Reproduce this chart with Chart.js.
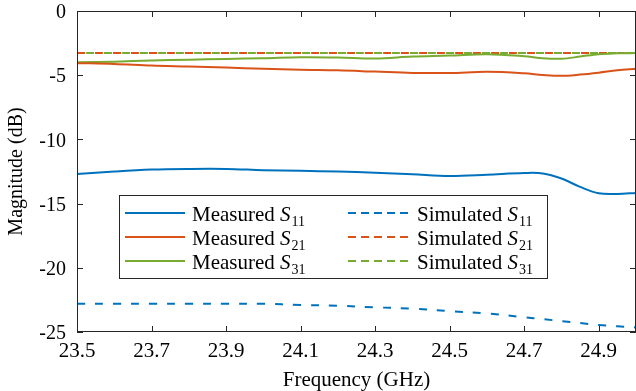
<!DOCTYPE html>
<html>
<head>
<meta charset="utf-8">
<script src="https://cdn.jsdelivr.net/npm/chart.js@4/dist/chart.umd.min.js"></script>
<style>
  html, body { margin: 0; padding: 0; background: #fff; }
  #wrap { width: 636px; height: 391px; }
</style>
</head>
<body>
<div id="wrap"><canvas id="sparams"></canvas></div>
<script>
// frequency grid (GHz)
const freq = [23.5, 23.6, 23.7, 23.8, 23.9, 24.0, 24.1, 24.2, 24.3, 24.4, 24.5, 24.6, 24.7, 24.75, 24.8, 24.85, 24.9, 24.95, 25.0]

// measured (dB)
const measS11 = [-12.7, -12.5, -12.35, -12.3, -12.3, -12.4, -12.45, -12.5, -12.6, -12.72, -12.85, -12.75, -12.62, -12.65, -13.05, -13.7, -14.2, -14.25, -14.17]
const measS21 = [-4.06, -4.12, -4.25, -4.32, -4.4, -4.5, -4.58, -4.62, -4.72, -4.82, -4.83, -4.74, -4.85, -4.98, -5.05, -4.95, -4.8, -4.62, -4.5]
const measS31 = [-4.0, -3.95, -3.85, -3.8, -3.73, -3.68, -3.6, -3.62, -3.7, -3.55, -3.47, -3.36, -3.52, -3.68, -3.72, -3.55, -3.36, -3.3, -3.28]

// simulated (dB)
const simS11 = [-22.8, -22.8, -22.8, -22.8, -22.8, -22.8, -22.9, -22.95, -23.08, -23.18, -23.38, -23.55, -23.85, -24.0, -24.15, -24.3, -24.45, -24.55, -24.64]
const simS21 = [-3.28, -3.28, -3.28, -3.28, -3.28, -3.28, -3.28, -3.28, -3.28, -3.28, -3.28, -3.28, -3.28, -3.28, -3.28, -3.28, -3.28, -3.28, -3.28]
const simS31 = [-3.28, -3.28, -3.28, -3.28, -3.28, -3.28, -3.28, -3.28, -3.28, -3.28, -3.28, -3.28, -3.28, -3.28, -3.28, -3.28, -3.28, -3.28, -3.28]

const xTicks = [23.5, 23.7, 23.9, 24.1, 24.3, 24.5, 24.7, 24.9]
const yTicks = [-25, -20, -15, -10, -5, 0]

const BLUE = "#0072BD"
const ORANGE = "#D95319"
const GREEN = "#77AC30"
const AXIS = "#262626"
const FONT = "'Liberation Serif', 'Times New Roman', serif"

const pts = (ys) => freq.map((f, i) => ({ x: f, y: ys[i] }))

const legendRows = [
  { col: 0, row: 0, label: "Measured", sub: "11", color: BLUE, dash: [] },
  { col: 0, row: 1, label: "Measured", sub: "21", color: ORANGE, dash: [] },
  { col: 0, row: 2, label: "Measured", sub: "31", color: GREEN, dash: [] },
  { col: 1, row: 0, label: "Simulated", sub: "11", color: BLUE, dash: [8, 5] },
  { col: 1, row: 1, label: "Simulated", sub: "21", color: ORANGE, dash: [8, 5] },
  { col: 1, row: 2, label: "Simulated", sub: "31", color: GREEN, dash: [8, 5] },
]

// inward ticks, box and the custom legend (needs subscripts)
const framePlugin = {
  id: "frame",
  afterDatasetsDraw(chart) {
    const { ctx, chartArea: a, scales } = chart
    ctx.save()
    ctx.strokeStyle = AXIS
    ctx.lineWidth = 1
    ctx.strokeRect(a.left + 0.5, a.top + 0.5, a.right - a.left - 1, a.bottom - a.top - 1)
    ctx.beginPath()
    xTicks.forEach((v) => {
      const x = Math.round(scales.x.getPixelForValue(v)) + 0.5
      ctx.moveTo(x, a.bottom); ctx.lineTo(x, a.bottom - 6)
      ctx.moveTo(x, a.top); ctx.lineTo(x, a.top + 6)
    })
    yTicks.forEach((v) => {
      const y = Math.round(scales.y.getPixelForValue(v)) + 0.5
      ctx.moveTo(a.left, y); ctx.lineTo(a.left + 6, y)
      ctx.moveTo(a.right, y); ctx.lineTo(a.right - 6, y)
    })
    ctx.stroke()

    // legend box
    const bx = 119, by = 195, bw = 428, bh = 83
    ctx.fillStyle = "#fff"
    ctx.fillRect(bx, by, bw, bh)
    ctx.strokeRect(bx + 0.5, by + 0.5, bw, bh)
    legendRows.forEach((r) => {
      const y = 213 + r.row * 24
      const lx = r.col === 0 ? 125 : 348
      const tx = r.col === 0 ? 192 : 417
      ctx.strokeStyle = r.color
      ctx.lineWidth = 2
      ctx.setLineDash(r.dash)
      ctx.beginPath()
      ctx.moveTo(lx, y); ctx.lineTo(lx + 60, y)
      ctx.stroke()
      ctx.setLineDash([])
      ctx.fillStyle = "#000"
      ctx.textBaseline = "alphabetic"
      ctx.font = "21px " + FONT
      const base = y + 8
      const t = r.label + " "
      ctx.fillText(t, tx, base)
      let x = tx + ctx.measureText(t).width
      ctx.font = "italic 21px " + FONT
      ctx.fillText("S", x, base)
      x += ctx.measureText("S").width + 1
      ctx.font = "14px " + FONT
      ctx.fillText(r.sub, x, base + 5)
    })
    ctx.restore()
  },
}

const ds = (label, ys, color, dashed) => ({
  label,
  data: pts(ys),
  borderColor: color,
  backgroundColor: color,
  borderWidth: 2,
  borderDash: dashed ? [8, 10] : [],
  pointRadius: 0,
  tension: 0.35,
  fill: false,
})

const simS31Set = ds("Simulated S31", simS31, GREEN, true)
simS31Set.borderDashOffset = 9

new Chart(document.getElementById("sparams"), {
  type: "line",
  data: {
    datasets: [
      ds("Measured S11", measS11, BLUE, false),
      ds("Measured S21", measS21, ORANGE, false),
      ds("Measured S31", measS31, GREEN, false),
      ds("Simulated S11", simS11, BLUE, true),
      ds("Simulated S21", simS21, ORANGE, true),
      simS31Set,
    ],
  },
  options: {
    responsive: true,
    maintainAspectRatio: false,
    animation: false,
    layout: { padding: { top: 11, right: 0, left: 0, bottom: 0 } },
    plugins: { legend: { display: false }, tooltip: { enabled: false } },
    scales: {
      x: {
        type: "linear",
        min: 23.5,
        max: 25,
        afterBuildTicks: (s) => { s.ticks = xTicks.map((v) => ({ value: v })) },
        afterFit: (s) => { s.height = 59; s.paddingLeft = 0; s.paddingRight = 0 },
        grid: { display: false, drawTicks: false },
        border: { display: false },
        ticks: { color: "#000", font: { family: FONT, size: 21 }, padding: 7, maxRotation: 0, autoSkip: false, callback: (v) => v.toFixed(1) },
        title: { display: true, text: "Frequency (GHz)", color: "#000", font: { family: FONT, size: 21, lineHeight: 1 }, padding: { top: 0, bottom: 0 } },
      },
      y: {
        min: -25,
        max: 0,
        afterBuildTicks: (s) => { s.ticks = yTicks.map((v) => ({ value: v })) },
        afterFit: (s) => { s.width = 77; s.paddingTop = 0; s.paddingBottom = 0 },
        grid: { display: false, drawTicks: false },
        border: { display: false },
        ticks: { color: "#000", font: { family: FONT, size: 20 }, padding: 11, labelOffset: 2 },
        title: { display: true, text: "Magnitude (dB)", color: "#000", font: { family: FONT, size: 20 }, padding: { top: 5, bottom: 0 } },
      },
    },
  },
  plugins: [framePlugin],
})
</script>
</body>
</html>
